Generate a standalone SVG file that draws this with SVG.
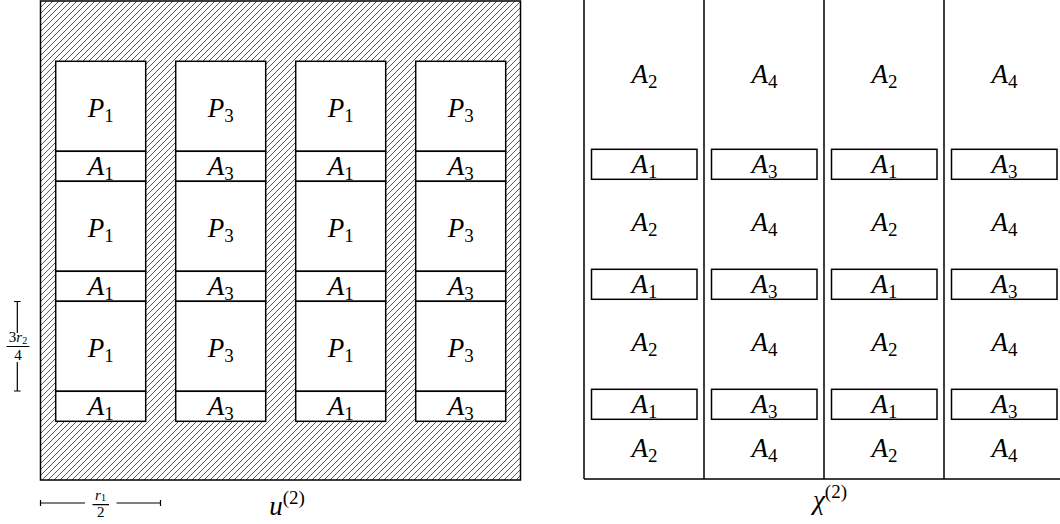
<svg xmlns="http://www.w3.org/2000/svg" width="1060" height="524" viewBox="0 0 1060 524">
<defs>
<pattern id="hatch" patternUnits="userSpaceOnUse" width="6" height="6">
<rect width="6" height="6" fill="#fff"/>
<path d="M-1,7 L7,-1 M-1,1 L1,-1 M5,7 L7,5" stroke="#111" stroke-width="0.7"/>
</pattern>
</defs>
<style>
.box{fill:#fff;stroke:#000;stroke-width:1.5}
.ln{stroke:#000;stroke-width:1.5;fill:none}
.thin{stroke:#000;stroke-width:1.2;fill:none}
text{font-family:"Liberation Serif","DejaVu Serif",serif;fill:#000;text-anchor:middle}
.m{font-style:italic;font-size:27px}
.s{font-style:normal;font-size:19px}
.f{font-size:15px}
.fi{font-style:italic}
.fs{font-size:10px}
</style>

<g id="left-panel">
<rect id="hatched-frame" x="40.5" y="1" width="480" height="479" fill="url(#hatch)" stroke="#000" stroke-width="1.5"/>
<g id="col1">
<rect class="box" x="55.7" y="61.3" width="90" height="90"/><rect class="box" x="55.7" y="151.3" width="90" height="30"/>
<rect class="box" x="55.7" y="181.3" width="90" height="90"/><rect class="box" x="55.7" y="271.3" width="90" height="30"/>
<rect class="box" x="55.7" y="301.3" width="90" height="90"/><rect class="box" x="55.7" y="391.3" width="90" height="30"/>
<text class="m" x="100.7" y="117">P<tspan class="s" dy="5">1</tspan></text>
<text class="m" x="100.7" y="175">A<tspan class="s" dy="5">1</tspan></text>
<text class="m" x="100.7" y="237">P<tspan class="s" dy="5">1</tspan></text>
<text class="m" x="100.7" y="295">A<tspan class="s" dy="5">1</tspan></text>
<text class="m" x="100.7" y="357">P<tspan class="s" dy="5">1</tspan></text>
<text class="m" x="100.7" y="415">A<tspan class="s" dy="5">1</tspan></text>
</g>
<g id="col2">
<rect class="box" x="175.7" y="61.3" width="90" height="90"/><rect class="box" x="175.7" y="151.3" width="90" height="30"/>
<rect class="box" x="175.7" y="181.3" width="90" height="90"/><rect class="box" x="175.7" y="271.3" width="90" height="30"/>
<rect class="box" x="175.7" y="301.3" width="90" height="90"/><rect class="box" x="175.7" y="391.3" width="90" height="30"/>
<text class="m" x="220.7" y="117">P<tspan class="s" dy="5">3</tspan></text>
<text class="m" x="220.7" y="175">A<tspan class="s" dy="5">3</tspan></text>
<text class="m" x="220.7" y="237">P<tspan class="s" dy="5">3</tspan></text>
<text class="m" x="220.7" y="295">A<tspan class="s" dy="5">3</tspan></text>
<text class="m" x="220.7" y="357">P<tspan class="s" dy="5">3</tspan></text>
<text class="m" x="220.7" y="415">A<tspan class="s" dy="5">3</tspan></text>
</g>
<g id="col3">
<rect class="box" x="295.7" y="61.3" width="90" height="90"/><rect class="box" x="295.7" y="151.3" width="90" height="30"/>
<rect class="box" x="295.7" y="181.3" width="90" height="90"/><rect class="box" x="295.7" y="271.3" width="90" height="30"/>
<rect class="box" x="295.7" y="301.3" width="90" height="90"/><rect class="box" x="295.7" y="391.3" width="90" height="30"/>
<text class="m" x="340.7" y="117">P<tspan class="s" dy="5">1</tspan></text>
<text class="m" x="340.7" y="175">A<tspan class="s" dy="5">1</tspan></text>
<text class="m" x="340.7" y="237">P<tspan class="s" dy="5">1</tspan></text>
<text class="m" x="340.7" y="295">A<tspan class="s" dy="5">1</tspan></text>
<text class="m" x="340.7" y="357">P<tspan class="s" dy="5">1</tspan></text>
<text class="m" x="340.7" y="415">A<tspan class="s" dy="5">1</tspan></text>
</g>
<g id="col4">
<rect class="box" x="415.7" y="61.3" width="90" height="90"/><rect class="box" x="415.7" y="151.3" width="90" height="30"/>
<rect class="box" x="415.7" y="181.3" width="90" height="90"/><rect class="box" x="415.7" y="271.3" width="90" height="30"/>
<rect class="box" x="415.7" y="301.3" width="90" height="90"/><rect class="box" x="415.7" y="391.3" width="90" height="30"/>
<text class="m" x="460.7" y="117">P<tspan class="s" dy="5">3</tspan></text>
<text class="m" x="460.7" y="175">A<tspan class="s" dy="5">3</tspan></text>
<text class="m" x="460.7" y="237">P<tspan class="s" dy="5">3</tspan></text>
<text class="m" x="460.7" y="295">A<tspan class="s" dy="5">3</tspan></text>
<text class="m" x="460.7" y="357">P<tspan class="s" dy="5">3</tspan></text>
<text class="m" x="460.7" y="415">A<tspan class="s" dy="5">3</tspan></text>
</g>
<g id="dim-vertical">
<path class="thin" d="M17.3,301.5 V333 M17.3,362 V391 M14,301.5 H20.6 M14,391 H20.6 M6.5,346.5 H29.5"/>
<text class="f" x="18" y="342">3<tspan class="fi">r</tspan><tspan class="fs" dy="1.5">2</tspan></text>
<text class="f" x="18" y="359.5">4</text>
</g>
<g id="dim-horizontal">
<path class="thin" d="M40.5,503 H85 M116.5,503 H160.5 M40.5,500 V506 M160.5,500 V506 M92.5,504.7 H109"/>
<text class="f" x="100.5" y="499.5"><tspan class="fi">r</tspan><tspan class="fs" dy="1.5">1</tspan></text>
<text class="f" x="100.7" y="517">2</text>
</g>
<text id="u-label" class="m" x="287" y="515">u<tspan class="s" dy="-11">(2)</tspan></text>
</g>

<g id="right-panel">
<path class="ln" d="M584,0 V479 M704,0 V479 M824,0 V479 M944,0 V479 M584,479 H1060"/>
<g id="rcol1">
<rect class="box" x="591.5" y="149.3" width="105.5" height="30"/>
<rect class="box" x="591.5" y="269.3" width="105.5" height="30"/>
<rect class="box" x="591.5" y="389.3" width="105.5" height="30"/>
<text class="m" x="644.5" y="83">A<tspan class="s" dy="5">2</tspan></text>
<text class="m" x="644.5" y="172.5">A<tspan class="s" dy="5">1</tspan></text>
<text class="m" x="644.5" y="231">A<tspan class="s" dy="5">2</tspan></text>
<text class="m" x="644.5" y="292.5">A<tspan class="s" dy="5">1</tspan></text>
<text class="m" x="644.5" y="351">A<tspan class="s" dy="5">2</tspan></text>
<text class="m" x="644.5" y="412.8">A<tspan class="s" dy="5">1</tspan></text>
<text class="m" x="644.5" y="457">A<tspan class="s" dy="5">2</tspan></text>
</g>
<g id="rcol2">
<rect class="box" x="711.5" y="149.3" width="105.5" height="30"/>
<rect class="box" x="711.5" y="269.3" width="105.5" height="30"/>
<rect class="box" x="711.5" y="389.3" width="105.5" height="30"/>
<text class="m" x="764.5" y="83">A<tspan class="s" dy="5">4</tspan></text>
<text class="m" x="764.5" y="172.5">A<tspan class="s" dy="5">3</tspan></text>
<text class="m" x="764.5" y="231">A<tspan class="s" dy="5">4</tspan></text>
<text class="m" x="764.5" y="292.5">A<tspan class="s" dy="5">3</tspan></text>
<text class="m" x="764.5" y="351">A<tspan class="s" dy="5">4</tspan></text>
<text class="m" x="764.5" y="412.8">A<tspan class="s" dy="5">3</tspan></text>
<text class="m" x="764.5" y="457">A<tspan class="s" dy="5">4</tspan></text>
</g>
<g id="rcol3">
<rect class="box" x="831.5" y="149.3" width="105.5" height="30"/>
<rect class="box" x="831.5" y="269.3" width="105.5" height="30"/>
<rect class="box" x="831.5" y="389.3" width="105.5" height="30"/>
<text class="m" x="884.5" y="83">A<tspan class="s" dy="5">2</tspan></text>
<text class="m" x="884.5" y="172.5">A<tspan class="s" dy="5">1</tspan></text>
<text class="m" x="884.5" y="231">A<tspan class="s" dy="5">2</tspan></text>
<text class="m" x="884.5" y="292.5">A<tspan class="s" dy="5">1</tspan></text>
<text class="m" x="884.5" y="351">A<tspan class="s" dy="5">2</tspan></text>
<text class="m" x="884.5" y="412.8">A<tspan class="s" dy="5">1</tspan></text>
<text class="m" x="884.5" y="457">A<tspan class="s" dy="5">2</tspan></text>
</g>
<g id="rcol4">
<rect class="box" x="951.5" y="149.3" width="105.5" height="30"/>
<rect class="box" x="951.5" y="269.3" width="105.5" height="30"/>
<rect class="box" x="951.5" y="389.3" width="105.5" height="30"/>
<text class="m" x="1004.5" y="83">A<tspan class="s" dy="5">4</tspan></text>
<text class="m" x="1004.5" y="172.5">A<tspan class="s" dy="5">3</tspan></text>
<text class="m" x="1004.5" y="231">A<tspan class="s" dy="5">4</tspan></text>
<text class="m" x="1004.5" y="292.5">A<tspan class="s" dy="5">3</tspan></text>
<text class="m" x="1004.5" y="351">A<tspan class="s" dy="5">4</tspan></text>
<text class="m" x="1004.5" y="412.8">A<tspan class="s" dy="5">3</tspan></text>
<text class="m" x="1004.5" y="457">A<tspan class="s" dy="5">4</tspan></text>
</g>
<text id="chi-label" class="m" x="830" y="509">χ<tspan class="s" dy="-11">(2)</tspan></text>
</g>
</svg>
